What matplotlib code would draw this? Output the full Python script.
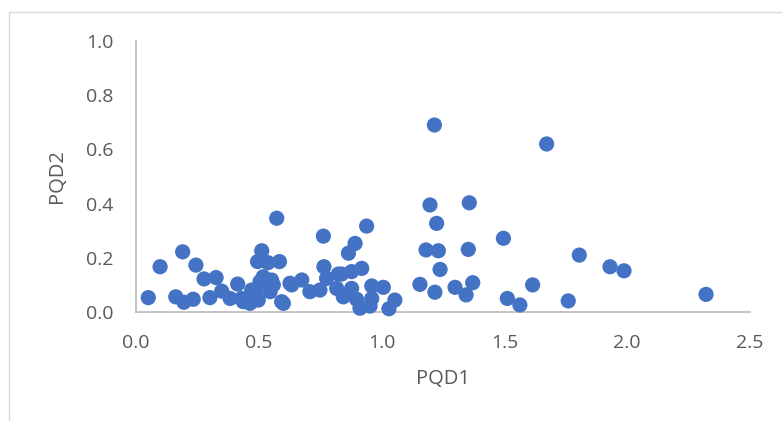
import matplotlib
matplotlib.use("Agg")
import matplotlib.pyplot as plt
from matplotlib.lines import Line2D

pqd1 = [0.050, 0.098, 0.162, 0.190, 0.195, 0.233, 0.244, 0.277, 0.301, 0.326,
        0.349, 0.383, 0.414, 0.430, 0.437, 0.464, 0.464, 0.471, 0.489, 0.495,
        0.498, 0.505, 0.512, 0.518, 0.537, 0.546, 0.552, 0.559, 0.573, 0.584,
        0.593, 0.600, 0.627, 0.634, 0.675, 0.708, 0.749, 0.763, 0.765, 0.776,
        0.817, 0.824, 0.837, 0.844, 0.865, 0.878, 0.878, 0.892, 0.898, 0.912,
        0.919, 0.939, 0.953, 0.960, 0.960, 1.007, 1.030, 1.054, 1.156, 1.181,
        1.197, 1.215, 1.217, 1.224, 1.231, 1.238, 1.299, 1.344, 1.353, 1.357,
        1.371, 1.496, 1.512, 1.563, 1.615, 1.672, 1.760, 1.805, 1.930, 1.987,
        2.321]
pqd2 = [0.053, 0.167, 0.056, 0.222, 0.036, 0.047, 0.173, 0.122, 0.053, 0.127,
        0.077, 0.050, 0.103, 0.050, 0.038, 0.032, 0.044, 0.081, 0.075, 0.186,
        0.044, 0.112, 0.226, 0.130, 0.182, 0.075, 0.118, 0.100, 0.346, 0.186,
        0.038, 0.032, 0.106, 0.100, 0.118, 0.075, 0.081, 0.280, 0.167, 0.124,
        0.087, 0.140, 0.140, 0.056, 0.217, 0.149, 0.087, 0.253, 0.047, 0.014,
        0.161, 0.317, 0.022, 0.096, 0.050, 0.091, 0.012, 0.044, 0.102, 0.229,
        0.395, 0.690, 0.073, 0.327, 0.226, 0.157, 0.091, 0.063, 0.231, 0.403,
        0.108, 0.272, 0.050, 0.026, 0.100, 0.620, 0.041, 0.210, 0.167, 0.152,
        0.065]

x_ticks = [0.0, 0.5, 1.0, 1.5, 2.0, 2.5]
y_ticks = [0.0, 0.2, 0.4, 0.6, 0.8, 1.0]

W, H = 782, 421
fig = plt.figure(figsize=(W / 100, H / 100), dpi=100)
plt.rcParams['font.family'] = ['Open Sans', 'DejaVu Sans']

ax = fig.add_axes([136 / W, 1 - 312 / H, (750 - 136) / W, (312 - 41) / H])
ax.scatter(pqd1, pqd2, s=120, color='#4472C4', edgecolors='none', zorder=3, clip_on=False)

ax.set_xlim(0, 2.5)
ax.set_ylim(0, 1.0)
ax.set_xticks(x_ticks)
ax.set_yticks(y_ticks)
ax.set_xticklabels([f"{v:.1f}" for v in x_ticks])
ax.set_yticklabels([f"{v:.1f}" for v in y_ticks])
ax.tick_params(length=0, labelsize=14, colors='#595959')
ax.tick_params(axis='x', pad=16)
ax.tick_params(axis='y', pad=16)

for s in ['top', 'right']:
    ax.spines[s].set_visible(False)
for s in ['left', 'bottom']:
    ax.spines[s].set_color('#BFBFBF')
    ax.spines[s].set_linewidth(1.3)

ax.set_xlabel('PQD1', fontsize=14.5, color='#595959', labelpad=12)
ax.set_ylabel('PQD2', fontsize=14.5, color='#595959', labelpad=14)

# chart-area border
fig.add_artist(Line2D([9 / W, 9 / W, 1.0], [0.0, 1 - 12 / H, 1 - 12 / H],
                      transform=fig.transFigure, color='#D9D9D9', linewidth=1.0))

fig.savefig('out.png', dpi=100)
